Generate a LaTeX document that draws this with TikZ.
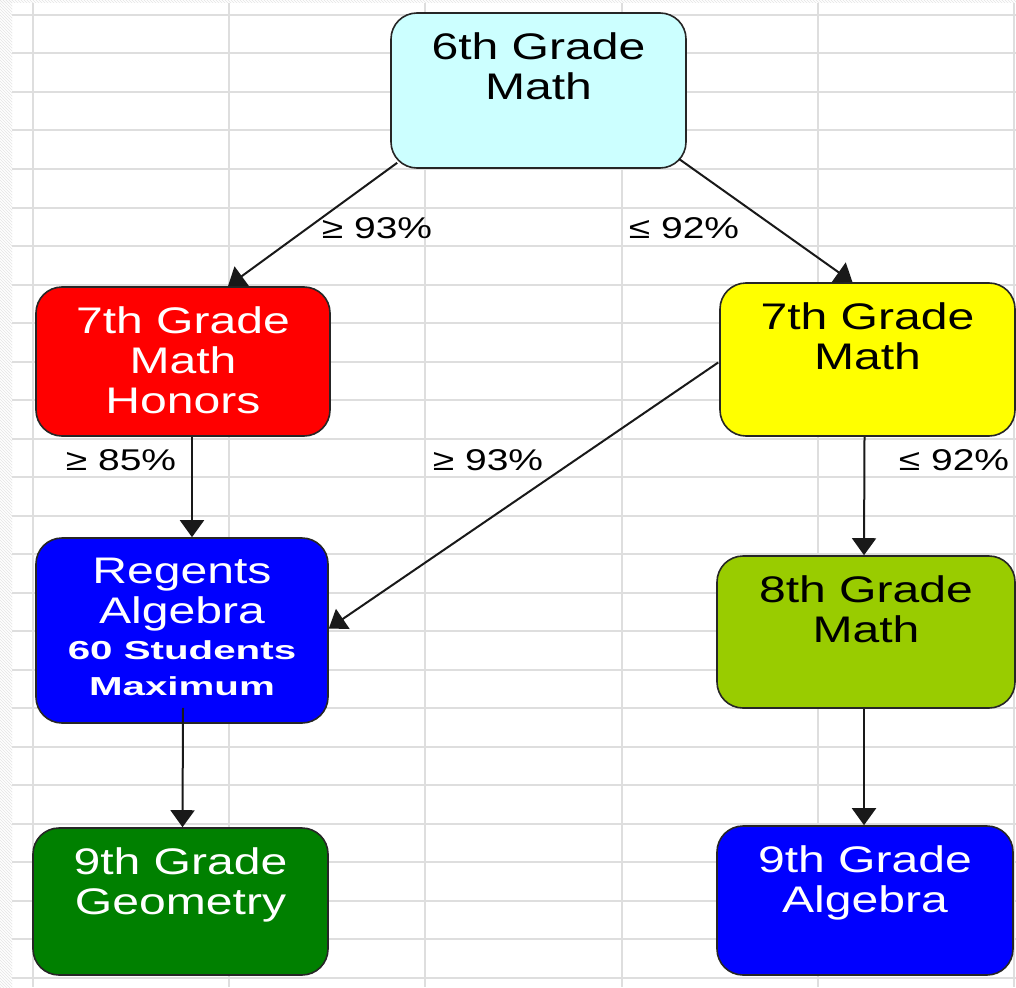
\documentclass[tikz,border=0pt]{standalone}
\usepackage{fontspec}
\setmainfont{Liberation Sans}
\newfontfamily\bxf[FakeStretch=1.3]{Liberation Sans}
\newfontfamily\bbf[FakeStretch=1.55]{Liberation Sans}
\usetikzlibrary{arrows.meta,calc,patterns}
\newcommand\bx[3]{\parbox[c][#2][t]{#1}{\centering\vspace*{20pt}#3\par}}
\tikzset{
  grid/.style={draw=black!13, line width=2pt},
  box/.style={draw=black!85, line width=1.6pt, rounded corners=26pt, inner sep=0pt,
    font=\bxf\fontsize{37}{40}\selectfont},
  lbl/.style={inner sep=0pt, font=\bxf\fontsize{30}{32}\selectfont},
  arr/.style={draw=black!90, line width=2pt, -{Triangle[width=24pt,length=17pt]}},
}
\begin{document}
\begin{tikzpicture}[x=1pt,y=-1pt]
\useasboundingbox (0,0) rectangle (1016,987);
\fill[white] (0,0) rectangle (1016,987);
\fill[pattern=north west lines, pattern color=black!10] (0,0) rectangle (12,987);
\fill[pattern=north west lines, pattern color=black!10] (0,0) rectangle (1016,3);
\foreach \k in {0,...,25} \draw[grid] (12,15+38.5*\k) -- (1016,15+38.5*\k);
\foreach \x in {33,229,425,622,818,1014} \draw[grid] (\x,3) -- (\x,987);

\node[box, fill={rgb,255:red,204;green,255;blue,255}] (six) at (538.5,90.5)
  {\bx{295pt}{155pt}{6th Grade\\Math}};
\node[box, fill={rgb,255:red,255;green,0;blue,0}, text=white] (h7) at (183,361.5)
  {\bx{294pt}{149pt}{7th Grade\\Math\\Honors}};
\node[box, fill={rgb,255:red,255;green,255;blue,0}] (m7) at (867.5,359.5)
  {\bx{295pt}{153pt}{7th Grade\\Math}};
\node[box, fill={rgb,255:red,0;green,0;blue,255}, text=white] (reg) at (182,630.5)
  {\bx{292pt}{185pt}{Regents\\Algebra\par
   {\bbf\bfseries\fontsize{26}{36}\selectfont 60 Students\\Maximum\par}}};
\node[box, fill={rgb,255:red,153;green,204;blue,0}] (g8) at (866,632)
  {\bx{298pt}{152pt}{8th Grade\\Math}};
\node[box, fill={rgb,255:red,0;green,128;blue,0}, text=white] (geo) at (180.5,901.5)
  {\bx{295pt}{147pt}{9th Grade\\Geometry}};
\node[box, fill={rgb,255:red,0;green,0;blue,255}, text=white] (alg) at (865,900.5)
  {\bx{296pt}{149pt}{9th Grade\\Algebra}};

\node[lbl] (l1) at (377,228) {≥ 93\%};
\node[lbl] (l2) at (684,228) {≤ 92\%};
\node[lbl] (l3) at (121,460) {≥ 85\%};
\node[lbl] (l4) at (488,460) {≥ 93\%};
\node[lbl] (l5) at (954,460) {≤ 92\%};

\draw[arr] ($(six.south west)+(7,-6)$) -- ($(h7.north)+(45,0)$);
\draw[arr] ($(six.south east)+(-8,-10)$) -- ($(m7.north)+(-15,0)$);
\draw[arr] ($(h7.south)+(9,0)$) -- ($(reg.north)+(10,0)$);
\draw[arr] ($(m7.west)+(-1,3)$) -- ($(reg.east)+(0,-2)$);
\draw[arr] ($(m7.south)+(-3,0)$) -- ($(g8.north)+(-2,0)$);
\draw[arr] ($(reg.south)+(1,-16)$) -- ($(geo.north)+(2,0)$);
\draw[arr] ($(g8.south)+(-2,0)$) -- ($(alg.north)+(-1,0)$);
\end{tikzpicture}
\end{document}
